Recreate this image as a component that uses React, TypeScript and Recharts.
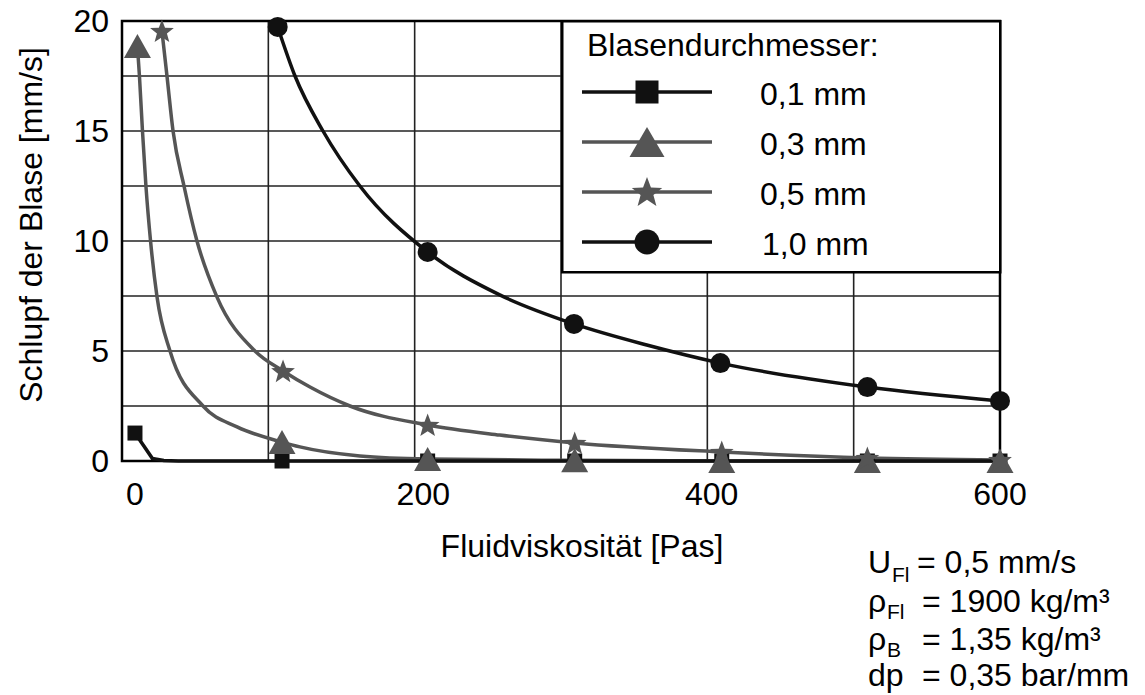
import React from "react";
import {
  ComposedChart,
  XAxis,
  YAxis,
  CartesianGrid,
  Line,
  Scatter,
  Legend,
  ReferenceArea,
} from "recharts";

const FONT = '"Liberation Sans", Arial, sans-serif';
const BLACK = "#111111";
const GRAY = "#555555";

// tick labels and grid
const xDomain = [-9, 600];
const xTicks = [0, 200, 400, 600];
const yTicks = [0, 5, 10, 15, 20];
const gridRows = [0, 2.5, 5, 7.5, 10, 12.5, 15, 17.5, 20];
const gridCols = [-9, 92.5, 194, 295.5, 397, 498.5, 600];

// 0,1 mm
const d01CurveX = [0, 12, 20, 30, 102, 203, 305, 407, 508, 600];
const d01CurveY = [1.27, 0.12, 0.02, 0, 0, 0, 0, 0, 0, 0];
const d01MarkX = [0, 102, 203, 305, 407, 508, 600];
const d01MarkY = [1.27, 0, 0, 0, 0, 0, 0];

// 0,3 mm
const d03CurveX = [1.7, 3.1, 5.2, 7.6, 10.8, 15.3, 24.3, 47.2, 70.8, 102, 114.4, 156, 203, 305, 407, 508, 600];
const d03CurveY = [18.86, 17.5, 15, 12.5, 10, 7.45, 5.0, 2.5, 1.55, 0.86, 0.64, 0.23, 0.09, 0.03, 0, 0, 0];
const d03MarkX = [1.7, 102, 203, 305, 407, 508, 600];
const d03MarkY = [18.86, 0.86, 0.09, 0.03, 0, 0, 0];

// 0,5 mm
const d05CurveX = [18.7, 22.2, 26.4, 34.0, 43.0, 56.9, 83.2, 102.7, 121.4, 149.1, 203, 253, 305, 407, 508, 600];
const d05CurveY = [19.55, 17.5, 15, 12.5, 10, 7.45, 5.0, 4.09, 3.36, 2.5, 1.64, 1.18, 0.82, 0.41, 0.14, 0.05];
const d05MarkX = [18.7, 102.7, 203, 305, 407, 508, 600];
const d05MarkY = [19.55, 4.09, 1.64, 0.82, 0.41, 0.14, 0.05];

// 1,0 mm
const d10CurveX = [99, 111, 130.4, 156, 203, 253, 304.5, 355, 406, 508, 600];
const d10CurveY = [19.73, 17.5, 15, 12.5, 9.5, 7.55, 6.23, 5.27, 4.45, 3.36, 2.73];
const d10MarkX = [99, 203, 304.5, 406, 508, 600];
const d10MarkY = [19.73, 9.5, 6.23, 4.45, 3.36, 2.73];

const toPoints = (xs: number[], ys: number[]) => xs.map((x, i) => ({ x, y: ys[i] }));

type Kind = "square" | "triangle" | "star" | "circle";

function Marker({ kind, cx, cy, color, big }: { kind: Kind; cx: number; cy: number; color: string; big?: boolean }) {
  if (kind === "square") {
    const s = big ? 23 : 15;
    return <rect x={cx - s / 2} y={cy - s / 2} width={s} height={s} fill={color} />;
  }
  if (kind === "triangle") {
    const w = big ? 35 : 27;
    const h = big ? 30 : 24;
    return (
      <polygon
        points={`${cx - w / 2},${cy + h / 2} ${cx + w / 2},${cy + h / 2} ${cx},${cy - h / 2}`}
        fill={color}
      />
    );
  }
  if (kind === "star") {
    const R = big ? 16 : 12.5;
    const r = R * 0.42;
    const pts: string[] = [];
    for (let i = 0; i < 10; i++) {
      const a = -Math.PI / 2 + (i * Math.PI) / 5;
      const rad = i % 2 === 0 ? R : r;
      pts.push(`${cx + rad * Math.cos(a)},${cy + rad * Math.sin(a) + 1}`);
    }
    return <polygon points={pts.join(" ")} fill={color} />;
  }
  return <circle cx={cx} cy={cy} r={big ? 12.5 : 10} fill={color} />;
}

const series = [
  { name: "0,1 mm", kind: "square" as Kind, color: BLACK, curveType: "linear", curve: toPoints(d01CurveX, d01CurveY), marks: toPoints(d01MarkX, d01MarkY) },
  { name: "0,3 mm", kind: "triangle" as Kind, color: GRAY, curveType: "monotone", curve: toPoints(d03CurveX, d03CurveY), marks: toPoints(d03MarkX, d03MarkY) },
  { name: "0,5 mm", kind: "star" as Kind, color: GRAY, curveType: "monotone", curve: toPoints(d05CurveX, d05CurveY), marks: toPoints(d05MarkX, d05MarkY) },
  { name: "1,0 mm", kind: "circle" as Kind, color: BLACK, curveType: "monotone", curve: toPoints(d10CurveX, d10CurveY), marks: toPoints(d10MarkX, d10MarkY) },
];

const lineOrder = [1, 2, 0, 3];

function LegendBox() {
  return (
    <svg width={441} height={254} style={{ display: "block" }}>
      <rect x={1.25} y={1.25} width={438} height={251} fill="#fff" stroke="#000" strokeWidth={2.5} />
      <text x={26} y={36} fontSize={32} fontFamily={FONT} fill="#000">
        Blasendurchmesser:
      </text>
      {series.map((s, i) => {
        const rowY = 72 + i * 50;
        return (
          <g key={s.name}>
            <line x1={21} x2={151} y1={rowY} y2={rowY} stroke={s.color} strokeWidth={3.5} />
            <Marker kind={s.kind} cx={86} cy={rowY} color={s.color} big />
            <text x={i === 3 ? 201 : 199} y={rowY + 13} fontSize={32} fontFamily={FONT} fill="#000">
              {s.name}
            </text>
          </g>
        );
      })}
    </svg>
  );
}

function Notes() {
  const t = { fontFamily: FONT, fill: "#000" };
  return (
    <svg width={1145} height={695} style={{ position: "absolute", left: 0, top: 0, pointerEvents: "none" }}>
      <text x={868} y={573} fontSize={32} {...t}>U</text>
      <text x={892} y={582} fontSize={21} {...t}>Fl</text>
      <text x={917} y={573} fontSize={32} {...t}>= 0,5 mm/s</text>

      <text x={868} y={612} fontSize={32} {...t}>ρ</text>
      <text x={887} y={619} fontSize={21} {...t}>Fl</text>
      <text x={922} y={612} fontSize={32} {...t}>= 1900 kg/m³</text>

      <text x={868} y={650} fontSize={32} {...t}>ρ</text>
      <text x={887} y={657} fontSize={21} {...t}>B</text>
      <text x={922} y={650} fontSize={32} {...t}>= 1,35 kg/m³</text>

      <text x={868} y={686} fontSize={32} {...t}>dp</text>
      <text x={922} y={686} fontSize={32} {...t}>= 0,35 bar/mm</text>
    </svg>
  );
}

export default function App() {
  return (
    <div style={{ position: "absolute", left: 0, top: 0, width: 1145, height: 695, background: "#fff" }}>
      <ComposedChart
        width={1145}
        height={695}
        margin={{ top: 21, right: 145, bottom: 194, left: 0 }}
        style={{ fontFamily: FONT }}
      >
        <XAxis
          type="number"
          dataKey="x"
          domain={xDomain}
          ticks={xTicks}
          axisLine={false}
          tickLine={false}
          tickSize={0}
          tickMargin={21}
          height={40}
          tick={{ fill: "#000", fontSize: 32, fontFamily: FONT }}
          label={{
            content: ({ viewBox }: any) => (
              <text
                x={viewBox.x + viewBox.width / 2 + 21}
                y={557}
                textAnchor="middle"
                fontSize={32}
                fontFamily={FONT}
                fill="#000"
              >
                Fluidviskosität [Pas]
              </text>
            ),
          }}
        />
        <YAxis
          type="number"
          dataKey="y"
          domain={[0, 20]}
          ticks={yTicks}
          axisLine={false}
          tickLine={false}
          tickSize={0}
          tickMargin={13}
          width={122}
          tick={{ fill: "#000", fontSize: 32, fontFamily: FONT }}
          label={{
            content: () => (
              <text
                x={42}
                y={225}
                transform="rotate(-90 42 225)"
                textAnchor="middle"
                fontSize={32}
                fontFamily={FONT}
                fill="#000"
              >
                Schlupf der Blase [mm/s]
              </text>
            ),
          }}
        />
        <CartesianGrid
          stroke="#222"
          strokeWidth={1.6}
          horizontalValues={gridRows}
          verticalValues={gridCols}
        />
        <ReferenceArea
          x1={xDomain[0]}
          x2={xDomain[1]}
          y1={0}
          y2={20}
          fill="none"
          fillOpacity={0}
          stroke="#000"
          strokeWidth={2.5}
        />
        {lineOrder.map((i) => (
          <Line
            key={"l" + i}
            data={series[i].curve}
            dataKey="y"
            type={series[i].curveType as any}
            stroke={series[i].color}
            strokeWidth={3.5}
            dot={false}
            activeDot={false}
            isAnimationActive={false}
            legendType="none"
          />
        ))}
        {series.map((s) => (
          <Scatter
            key={"m" + s.name}
            data={s.marks}
            dataKey="y"
            fill={s.color}
            isAnimationActive={false}
            legendType="none"
            shape={(p: any) => <Marker kind={s.kind} cx={p.cx} cy={p.cy} color={s.color} />}
          />
        ))}
        <Legend
          layout="horizontal"
          verticalAlign="middle"
          align="center"
          content={() => <LegendBox />}
          wrapperStyle={{ left: 561, top: 20, width: 441, height: 254 }}
        />
      </ComposedChart>
      <Notes />
    </div>
  );
}
